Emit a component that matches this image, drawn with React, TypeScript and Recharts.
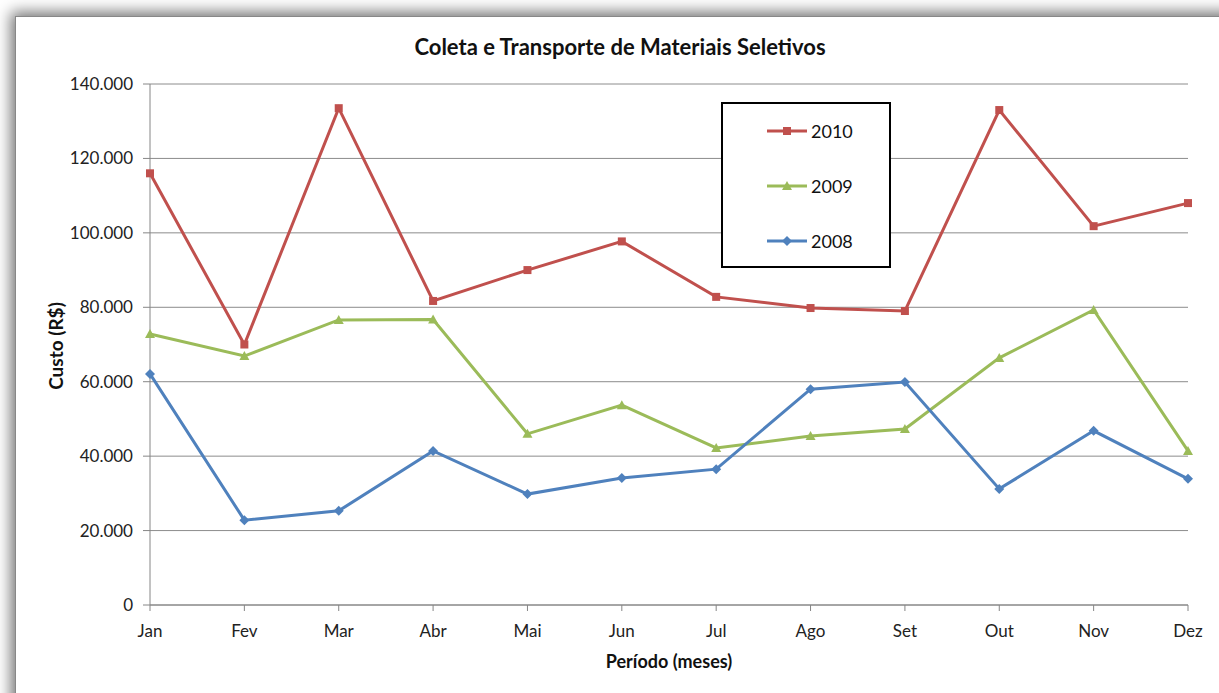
import { LineChart, Line, XAxis, YAxis, CartesianGrid } from "recharts";

const meses = ["Jan", "Fev", "Mar", "Abr", "Mai", "Jun", "Jul", "Ago", "Set", "Out", "Nov", "Dez"];
const custo2010 = [116000, 70000, 133500, 81700, 90000, 97700, 82800, 79800, 79000, 133000, 101800, 108000];
const custo2009 = [72800, 66900, 76600, 76700, 46000, 53700, 42200, 45400, 47300, 66400, 79300, 41400];
const custo2008 = [62100, 22800, 25300, 41400, 29800, 34100, 36500, 58000, 59900, 31200, 46800, 33900];
const yTicks = [0, 20000, 40000, 60000, 80000, 100000, 120000, 140000];

const series = [
	{ key: "y2010", name: "2010", color: "#c0504d", shape: "square" },
	{ key: "y2009", name: "2009", color: "#9bbb59", shape: "triangle" },
	{ key: "y2008", name: "2008", color: "#4f81bd", shape: "diamond" },
];

const data = meses.map((m, i) => ({
	mes: m,
	y2010: custo2010[i],
	y2009: custo2009[i],
	y2008: custo2008[i],
}));

// 140000 -> "140.000"
const fmt = (v: number) => String(v).replace(/\B(?=(\d{3})+(?!\d))/g, ".");

const FONT = "Lato, 'Open Sans', sans-serif";

function Marker(props: any, shape: string, color: string) {
	const { cx, cy, key } = props;
	if (cx == null || cy == null) return <g key={key} />;
	if (shape === "square")
		return <rect key={key} x={cx - 4} y={cy - 4} width={8} height={8} fill={color} />;
	if (shape === "triangle")
		return (
			<polygon
				key={key}
				points={`${cx},${cy - 5} ${cx + 5},${cy + 4} ${cx - 5},${cy + 4}`}
				fill={color}
			/>
		);
	return (
		<polygon
			key={key}
			points={`${cx},${cy - 5} ${cx + 5},${cy} ${cx},${cy + 5} ${cx - 5},${cy}`}
			fill={color}
		/>
	);
}

function LegendBox() {
	return (
		<div
			style={{
				position: "absolute",
				left: 721,
				top: 102,
				width: 166,
				height: 162,
				border: "2px solid #000",
				background: "#fff",
				fontFamily: FONT,
			}}
		>
			{series.map((s, i) => (
				<div
					key={s.key}
					style={{
						position: "absolute",
						left: 42,
						top: 16 + i * 55,
						display: "flex",
						alignItems: "center",
					}}
				>
					<svg width={44} height={20}>
						<line x1={2} y1={10} x2={42} y2={10} stroke={s.color} strokeWidth={3} />
						{Marker({ cx: 22, cy: 10, key: "m" }, s.shape, s.color)}
					</svg>
					<span style={{ fontSize: 18, color: "#111", marginLeft: 2 }}>{s.name}</span>
				</div>
			))}
		</div>
	);
}

export default function App() {
	return (
		<div
			style={{
				position: "fixed",
				left: 0,
				top: 0,
				width: 1219,
				height: 693,
				overflow: "hidden",
				background: "#fff",
			}}
		>
			{/* shadowed frame */}
			<div
				style={{
					position: "absolute",
					left: 15,
					top: 16,
					width: 1240,
					height: 720,
					background: "#fff",
					borderLeft: "1px solid #888",
					borderTop: "1px solid #888",
					boxShadow: "-4px -4px 14px rgba(0,0,0,0.55)",
				}}
			/>
			<div
				style={{
					position: "absolute",
					left: 0,
					top: 33,
					width: 1240,
					textAlign: "center",
					fontFamily: FONT,
					fontWeight: 700,
					fontSize: 22,
					color: "#111",
				}}
			>
				Coleta e Transporte de Materiais Seletivos
			</div>
			<div
				style={{
					position: "absolute",
					left: 0,
					top: 650,
					width: 1338,
					textAlign: "center",
					fontFamily: FONT,
					fontWeight: 700,
					fontSize: 18,
					color: "#111",
				}}
			>
				Período (meses)
			</div>
			<div
				style={{
					position: "absolute",
					left: 55,
					top: 346,
					transform: "translate(-50%, -50%) rotate(-90deg)",
					fontFamily: FONT,
					fontWeight: 700,
					fontSize: 19,
					color: "#111",
					whiteSpace: "nowrap",
				}}
			>
				Custo (R$)
			</div>
			<div style={{ position: "absolute", left: 0, top: 0 }}>
				<LineChart
					width={1219}
					height={693}
					data={data}
					margin={{ top: 84, right: 31, left: 70, bottom: 58 }}
				>
					<CartesianGrid vertical={false} stroke="#8c8c8c" strokeWidth={1} />
					<XAxis
						dataKey="mes"
						stroke="#868686"
						tickLine={{ stroke: "#868686" }}
						tickSize={6}
						tick={{ fill: "#222", fontSize: 17, fontFamily: FONT }}
						tickMargin={14}
						height={30}
					/>
					<YAxis
						width={80}
						domain={[0, 140000]}
						ticks={yTicks}
						tickFormatter={fmt}
						stroke="#868686"
						tickSize={7}
						tickMargin={10}
						tick={{ fill: "#222", fontSize: 17, fontFamily: FONT }}
						interval={0}
					/>
					{series.map((s) => (
						<Line
							key={s.key}
							type="linear"
							dataKey={s.key}
							name={s.name}
							stroke={s.color}
							strokeWidth={3}
							dot={(p: any) => Marker(p, s.shape, s.color)}
							activeDot={false}
							isAnimationActive={false}
						/>
					))}
				</LineChart>
			</div>
			<LegendBox />
		</div>
	);
}
